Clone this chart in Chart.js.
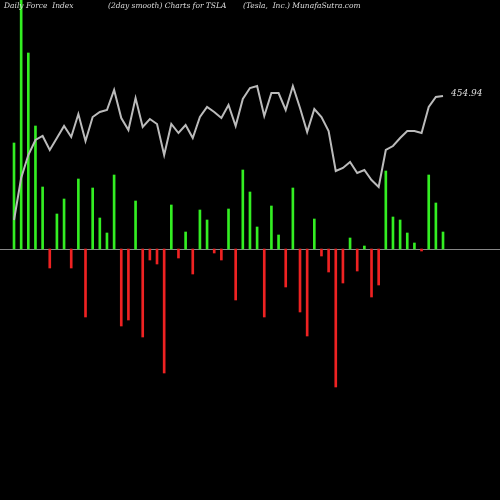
<!DOCTYPE html>
<html><head><script src="https://cdn.jsdelivr.net/npm/chart.js@4"></script>
<style>html,body{margin:0;background:#000}#w{width:500px;height:500px}</style></head>
<body><div id="w"><canvas id="c"></canvas></div>
<script>
const forceIndex=[106,249,196,123,62,-19,35,50,-19,70,-68,61,31,16,74,-77,-71,48,-88,-11,-15,-124,44,-9,17,-25,39,29,-4,-11,40,-51,79,57,22,-68,43,14,-38,61,-63,-87,30,-7,-23,-138,-34,11,-22,3,-48,-36,78,32,29,16,6,-2,74,46,17];
const priceLine=[29,71,94,109,113,99,111,123,112,135,108,132,137,139,159,131,119,151,122,130,125,94,125,116,124,111,132,142,137,131,144,123,150,161,163,133,156,156,139,163,141,117,140,132,118,78,81,87,76,79,69,62,99,103,111,118,118,116,142,152,153];
const lastLabel="454.94";
const bars=forceIndex.map((v,i)=>({x:i,y:v}));
const line=priceLine.map((v,i)=>({x:i,y:v}));
new Chart(document.getElementById('c'),{
 data:{datasets:[
  {type:'line',data:line,borderColor:'#bbbbbb',borderWidth:2,pointRadius:0,tension:0,order:0},
  {type:'bar',data:bars,backgroundColor:forceIndex.map(v=>v>=0?'#33ee22':'#ee2222'),barThickness:2,order:1}
 ]},
 options:{responsive:true,maintainAspectRatio:false,animation:false,
  layout:{padding:0},
  plugins:{legend:{display:false},tooltip:{enabled:false}},
  scales:{x:{type:'linear',offset:false,min:-1.96,max:67.97,display:false},
   y:{min:-251,max:249,display:false}}},
 plugins:[{id:'deco',beforeDatasetsDraw(ch){const c=ch.ctx,y=ch.scales.y.getPixelForValue(0);
   c.save();c.strokeStyle='#888';c.lineWidth=1;c.beginPath();c.moveTo(0,y+0.5);c.lineTo(500,y+0.5);c.stroke();c.restore();},
  afterDraw(ch){const c=ch.ctx;c.save();c.fillStyle='#dddddd';c.font='italic 7.5px "DejaVu Serif", serif';c.textBaseline='middle';
   c.fillText('Daily Force  Index',4,6);c.fillText('(2day smooth) Charts for TSLA',108,6);c.fillText('(Tesla,  Inc.) MunafaSutra.com',243,6);
   const xs=ch.scales.x,ys=ch.scales.y,n=priceLine.length-1;
   c.font='italic 9px "DejaVu Serif", serif';c.fillText(lastLabel,xs.getPixelForValue(n)+8,ys.getPixelForValue(priceLine[n])-2);c.restore();}}]
});
</script></body></html>
